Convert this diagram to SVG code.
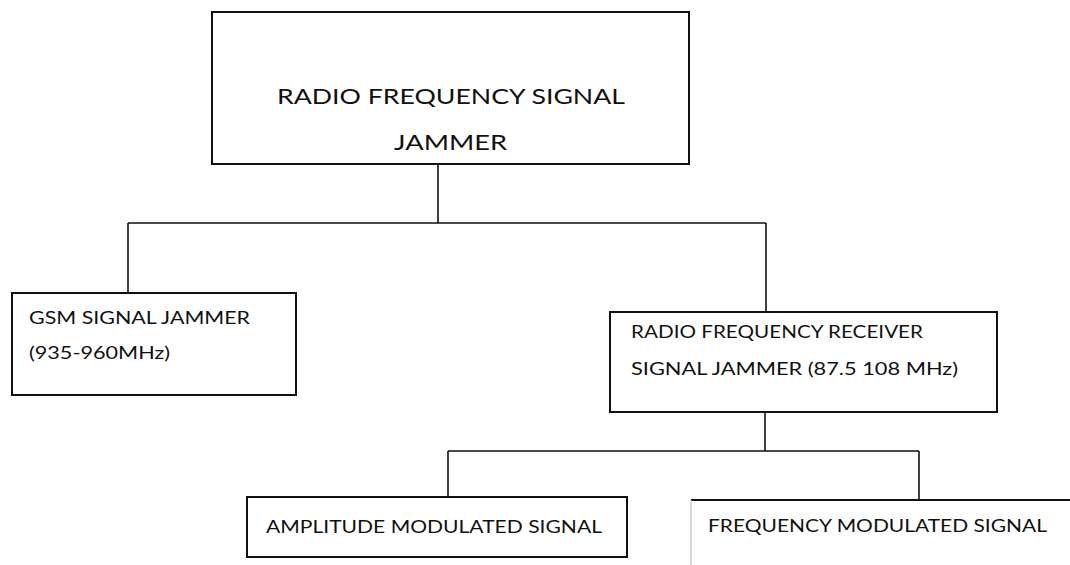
<svg xmlns="http://www.w3.org/2000/svg" width="1070" height="565" viewBox="0 0 1070 565">
<style>
.box{fill:#fff;stroke:#111;stroke-width:2}
.con{fill:none;stroke:#111;stroke-width:1.6}
text{font-family:Lato,"Open Sans","Liberation Sans",sans-serif;fill:#111}
.big{font-size:21px}
.mid{font-size:17px}
.am{font-size:18px}
</style>
<rect width="1070" height="565" fill="#fff"/>
<g id="connectors">
<path class="con" d="M438 164V223M128 223H766M128 223V293M766 223V312M765 412V451M448 451H919M448 451V497M919 451V500"/>
</g>
<g id="root">
<rect class="box" x="212" y="12" width="477" height="152"/>
<text class="big" x="277" y="104" textLength="348" lengthAdjust="spacingAndGlyphs">RADIO FREQUENCY SIGNAL</text>
<text class="big" x="394" y="150" textLength="113" lengthAdjust="spacingAndGlyphs">JAMMER</text>
</g>
<g id="gsm">
<rect class="box" x="12" y="293" width="284" height="102"/>
<text class="mid" x="29" y="324" textLength="221" lengthAdjust="spacingAndGlyphs">GSM SIGNAL JAMMER</text>
<text class="mid" x="29" y="359" textLength="141" lengthAdjust="spacingAndGlyphs">(935-960MHz)</text>
</g>
<g id="rf">
<rect class="box" x="610" y="312" width="387" height="100"/>
<text class="mid" x="631" y="338" textLength="292" lengthAdjust="spacingAndGlyphs">RADIO FREQUENCY RECEIVER</text>
<text class="mid" x="631" y="375" textLength="327" lengthAdjust="spacingAndGlyphs">SIGNAL JAMMER (87.5 108 MHz)</text>
</g>
<g id="am">
<rect class="box" x="247" y="497" width="380" height="60"/>
<text class="am" x="266" y="533" textLength="336" lengthAdjust="spacingAndGlyphs">AMPLITUDE MODULATED SIGNAL</text>
</g>
<g id="fm">
<path d="M691 500H1070" fill="none" stroke="#111" stroke-width="2"/>
<path d="M691 500V565" fill="none" stroke="#ccc" stroke-width="1.5"/>
<text class="am" x="708" y="532" textLength="339" lengthAdjust="spacingAndGlyphs">FREQUENCY MODULATED SIGNAL</text>
</g>
</svg>
